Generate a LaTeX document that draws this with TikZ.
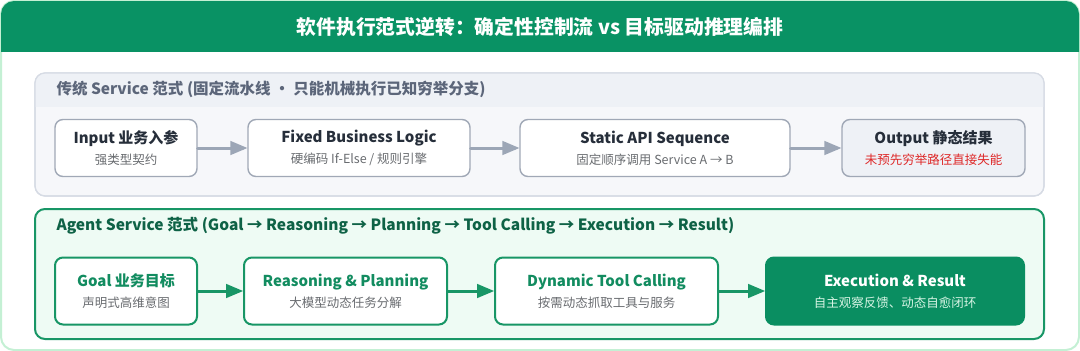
\documentclass[tikz,border=0pt]{standalone}
\usepackage{fontspec}
\setmainfont{Noto Sans CJK SC}
\usetikzlibrary{arrows}

\definecolor{hdgreen}{RGB}{9,146,100}
\definecolor{frame}{RGB}{196,240,212}
\definecolor{tradline}{RGB}{214,219,228}
\definecolor{tradhead}{RGB}{238,241,246}
\definecolor{tradbody}{RGB}{246,247,250}
\definecolor{tradtxt}{RGB}{92,102,122}
\definecolor{boxline}{RGB}{160,168,182}
\definecolor{boxtxt}{RGB}{38,46,58}
\definecolor{subtxt}{RGB}{105,108,112}
\definecolor{tradarr}{RGB}{156,166,182}
\definecolor{failred}{RGB}{222,40,40}
\definecolor{agfill}{RGB}{238,251,244}
\definecolor{agline}{RGB}{24,150,102}
\definecolor{agtxt}{RGB}{14,98,70}
\definecolor{aghead}{RGB}{18,140,96}
\definecolor{exfill}{RGB}{10,142,97}
\definecolor{exsub}{RGB}{214,244,228}

\tikzset{
  tbox/.style={draw=boxline, line width=1.4pt, rounded corners=8pt, fill=white,
    minimum height=57pt, align=center, inner sep=0pt},
  abox/.style={draw=agline, line width=2pt, rounded corners=8pt, fill=white,
    minimum height=67pt, align=center, inner sep=0pt},
  tarr/.style={draw=tradarr, line width=3pt, ->},
  aarr/.style={draw=agline, line width=3pt, ->}
}
\newcommand{\boxhd}[1]{{\fontsize{15}{18}\selectfont\bfseries #1}}
\newcommand{\boxsub}[1]{{\fontsize{12.5}{15}\selectfont #1}}

\begin{document}
\begin{tikzpicture}[line cap=round,line join=round,>=triangle 45,x=1pt,y=-1pt,
  node font=\fontsize{13}{21}\selectfont]
	\useasboundingbox (0,0) rectangle (1080,351);
	% cadre exterieur
	\draw[frame, line width=2pt, fill=white, rounded corners=13pt] (1,1) rectangle (1079,350);
	\begin{scope}
		\clip[rounded corners=13pt] (1,1) rectangle (1079,350);
		\fill[hdgreen] (0,0) rectangle (1080,52);
	\end{scope}
	\node[white, font=\fontsize{19.8}{22}\selectfont\bfseries] (titre) at (540,27)
		{软件执行范式逆转：确定性控制流 vs 目标驱动推理编排};

	% panneau traditionnel
	\draw[tradline, line width=1.2pt, fill=tradbody, rounded corners=10pt] (35,73) rectangle (1044,196);
	\begin{scope}
		\clip[rounded corners=10pt] (35,73) rectangle (1044,196);
		\fill[tradhead] (35,73) rectangle (1044,107);
	\end{scope}
	\draw[tradline, line width=1.2pt, rounded corners=10pt] (35,73) rectangle (1044,196);
	\node[anchor=west, tradtxt, font=\fontsize{15.5}{18}\selectfont\bfseries] (ttrad) at (52,89)
		{传统 Service 范式 (固定流水线 · 只能机械执行已知穷举分支)};

	\node[tbox, minimum width=142pt] (in1) at (126,148)
		{\boxhd{\color{boxtxt}Input 业务入参}\\\boxsub{\color{subtxt}强类型契约}};
	\node[tbox, minimum width=222pt] (logic) at (359,148)
		{\boxhd{\color{boxtxt}Fixed Business Logic}\\\boxsub{\color{subtxt}硬编码 If-Else / 规则引擎}};
	\node[tbox, minimum width=270pt] (api) at (655,148)
		{\boxhd{\color{boxtxt}Static API Sequence}\\\boxsub{\color{subtxt}固定顺序调用 Service A → B}};
	\node[tbox, minimum width=183pt, fill=tradhead] (out) at (933.5,148)
		{\boxhd{\color{boxtxt}Output 静态结果}\\\boxsub{\color{failred}未预先穷举路径直接失能}};
	\draw[tarr] (in1) -- (logic);
	\draw[tarr] (logic) -- (api);
	\draw[tarr] (api) -- (out);

	% panneau agent
	\draw[agline, line width=2pt, fill=agfill, rounded corners=10pt] (35,209) rectangle (1044,339);
	\node[anchor=west, agtxt, font=\fontsize{15.5}{18}\selectfont\bfseries] (tagent) at (52,226)
		{Agent Service 范式 (Goal → Reasoning → Planning → Tool Calling → Execution → Result)};

	\node[abox, minimum width=142pt] (goal) at (126,291)
		{\boxhd{\color{aghead}Goal 业务目标}\\\boxsub{\color{subtxt}声明式高维意图}};
	\node[abox, minimum width=203pt] (plan) at (345.5,291)
		{\boxhd{\color{aghead}Reasoning \& Planning}\\\boxsub{\color{subtxt}大模型动态任务分解}};
	\node[abox, minimum width=223pt] (tool) at (606.5,291)
		{\boxhd{\color{aghead}Dynamic Tool Calling}\\\boxsub{\color{subtxt}按需动态抓取工具与服务}};
	\node[abox, minimum width=258pt, fill=exfill, draw=exfill] (exec) at (895,291)
		{\boxhd{\color{white}Execution \& Result}\\\boxsub{\color{exsub}自主观察反馈、动态自愈闭环}};
	\draw[aarr] (goal) -- (plan);
	\draw[aarr] (plan) -- (tool);
	\draw[aarr] (tool) -- (exec);
\end{tikzpicture}
\end{document}
